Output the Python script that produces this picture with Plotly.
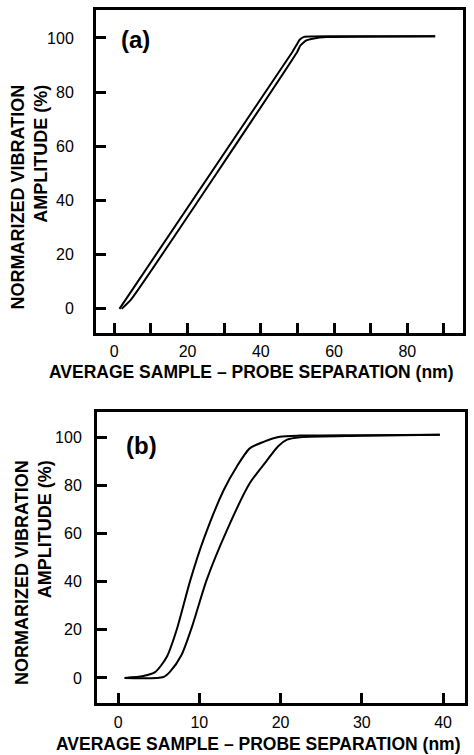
import plotly.graph_objects as go

# Panel (a) data
a_upper_x = [1.4, 48.7, 49.8, 50.6, 51.8, 60.0, 87.6]
a_upper_y = [0.0, 95.0, 97.5, 99.3, 100.4, 100.6, 100.6]
a_lower_x = [2.0, 4.6, 50.0, 50.8, 52.3, 54.5, 58.0, 87.6]
a_lower_y = [0.0, 3.5, 95.0, 97.2, 99.0, 99.8, 100.3, 100.6]

# Panel (b) data
b_upper_x = [0.8, 3.1, 4.55, 6.0, 7.2, 8.9, 10.5, 13.0, 14.6, 16.2, 17.9, 19.9, 22.4, 30.0, 39.6]
b_upper_y = [0.0, 0.8, 2.4, 8.8, 19.9, 40.7, 57.3, 78.0, 87.7, 95.3, 98.0, 100.1, 100.6, 100.8, 101.0]
b_lower_x = [0.8, 5.6, 6.4, 7.8, 9.1, 10.9, 13.4, 16.2, 18.3, 19.7, 20.8, 22.4, 30.0, 39.6]
b_lower_y = [0.0, 0.4, 2.6, 9.5, 21.3, 40.7, 61.4, 80.8, 90.2, 96.2, 98.9, 99.9, 100.5, 101.0]

a_xticks = [0, 10, 20, 30, 40, 50, 60, 70, 80, 90]
a_xticklabels = ["0", "", "20", "", "40", "", "60", "", "80", ""]
b_xticks = [0, 10, 20, 30, 40]
b_xticklabels = ["0", "10", "20", "30", "40"]
yticks = [0, 20, 40, 60, 80, 100]
yticklabels = ["0", "20", "40", "60", "80", "100"]

W, H = 474, 755
FONT = "Liberation Sans, Arial, sans-serif"
line_a = dict(color="black", width=2, shape="spline", smoothing=0.4)
line_b = dict(color="black", width=2, shape="spline", smoothing=0.7)

fig = go.Figure()
fig.add_trace(go.Scatter(x=a_upper_x, y=a_upper_y, mode="lines", line=line_a, xaxis="x", yaxis="y"))
fig.add_trace(go.Scatter(x=a_lower_x, y=a_lower_y, mode="lines", line=line_a, xaxis="x", yaxis="y"))
fig.add_trace(go.Scatter(x=b_upper_x, y=b_upper_y, mode="lines", line=line_b, xaxis="x2", yaxis="y2"))
fig.add_trace(go.Scatter(x=b_lower_x, y=b_lower_y, mode="lines", line=line_b, xaxis="x2", yaxis="y2"))

axis_common = dict(showline=True, linecolor="black", linewidth=3, mirror=True,
                   ticks="inside", ticklen=10, tickwidth=2.5, tickcolor="black",
                   showgrid=False, zeroline=False,
                   tickfont=dict(family=FONT, size=16, color="black"))


def px_x(p):
    return p / W


def px_y(p):
    return 1 - p / H


fig.update_layout(
    width=W, height=H, margin=dict(l=0, r=0, t=0, b=0, autoexpand=False),
    paper_bgcolor="white", plot_bgcolor="white", showlegend=False,
    xaxis=dict(domain=[px_x(96), px_x(463)], range=[-5.0, 95.2], anchor="y",
               tickmode="array", tickvals=a_xticks, ticktext=a_xticklabels,
               ticklabelstandoff=2, **axis_common),
    yaxis=dict(domain=[px_y(333), px_y(10)], range=[-8.9, 110.3], anchor="x",
               tickmode="array", tickvals=yticks, ticktext=yticklabels,
               ticklabelstandoff=16, **axis_common),
    xaxis2=dict(domain=[px_x(97), px_x(465)], range=[-2.6, 42.7], anchor="y2",
                tickmode="array", tickvals=b_xticks, ticktext=b_xticklabels,
                ticklabelstandoff=3, **axis_common),
    yaxis2=dict(domain=[px_y(703), px_y(412)], range=[-10.4, 110.4], anchor="x2",
                tickmode="array", tickvals=yticks, ticktext=yticklabels,
                ticklabelstandoff=9, **axis_common),
)

ytitle = "<b>NORMARIZED VIBRATION</b><br><b>AMPLITUDE (%)</b>"
xtitle = "<b>AVERAGE SAMPLE \u2013 PROBE SEPARATION (nm)</b>"

annos = [
    dict(text=ytitle, x=px_x(29.5), y=px_y(197), textangle=-90, align="right",
         font=dict(family=FONT, size=18, color="black")),
    dict(text=ytitle, x=px_x(33), y=px_y(573), textangle=-90, align="right",
         font=dict(family=FONT, size=18, color="black")),
    dict(text=xtitle, x=px_x(251), y=px_y(372), font=dict(family=FONT, size=17.5, color="black")),
    dict(text=xtitle, x=px_x(258), y=px_y(744), font=dict(family=FONT, size=17.5, color="black")),
    dict(text="<b>(a)</b>", x=px_x(135), y=px_y(39), font=dict(family=FONT, size=24, color="black")),
    dict(text="<b>(b)</b>", x=px_x(141), y=px_y(445), font=dict(family=FONT, size=24, color="black")),
]
for a in annos:
    fig.add_annotation(xref="paper", yref="paper", showarrow=False,
                       xanchor="center", yanchor="middle", **a)

fig.write_html("out.html", config={"displayModeBar": False},
               post_script="document.body.style.margin='0';document.body.style.overflow='hidden';")
